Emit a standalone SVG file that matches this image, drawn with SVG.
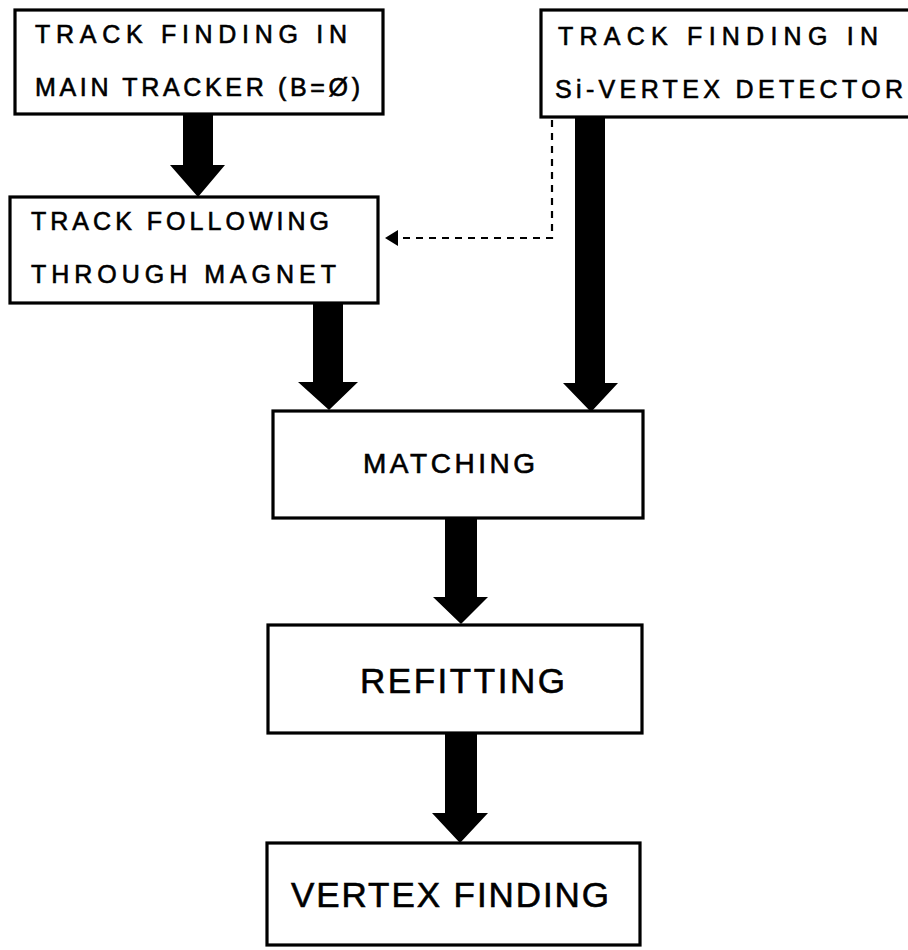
<svg xmlns="http://www.w3.org/2000/svg" width="908" height="950" viewBox="0 0 908 950">
  <style>
    .box { fill: #fff; stroke: #000; stroke-width: 3.2; }
    .lbl { font-family: "Liberation Sans", "DejaVu Sans", sans-serif; fill: #000; stroke: #000; stroke-width: 0.6; }
    .s { font-size: 25px; }
    .m { font-size: 28px; }
    .l { font-size: 35px; }
    .arrow { fill: #000; }
    .dash { fill: none; stroke: #000; stroke-width: 2.2; stroke-dasharray: 7 6; }
  </style>
  <defs>
    <marker id="tip" viewBox="0 0 10 10" refX="1" refY="5" markerWidth="14" markerHeight="14" markerUnits="userSpaceOnUse" orient="auto-start-reverse">
      <path d="M0,5 L10,0 L10,10 Z" fill="#000"/>
    </marker>
  </defs>
  <rect width="908" height="950" fill="#fff"/>

  <!-- block arrows and the dashed link -->
  <g id="connectors">
    <path class="arrow" d="M183,114 H213 V165 H225 L198,197 L170,165 H183 Z"/>
    <path class="arrow" d="M313,303 H343 V382 H358 L329,410 L298,382 H313 Z"/>
    <path class="arrow" d="M575,118 H605 V383 H618 L591,412 L563,383 H575 Z"/>
    <path class="arrow" d="M445,518 H477 V597 H488 L461,624 L433,597 H445 Z"/>
    <path class="arrow" d="M445,733 H477 V813 H488 L460,843 L432,813 H445 Z"/>
    <path class="dash" d="M552,120 V238 H398"/>
    <path d="M385,238 L398,230 L398,246 Z" fill="#000"/>
  </g>

  <g id="main-tracker">
    <rect class="box" x="15" y="10" width="368" height="104"/>
    <text class="lbl s" x="35" y="43" textLength="312" lengthAdjust="spacing">TRACK FINDING IN</text>
    <text class="lbl s" x="35" y="96" textLength="325" lengthAdjust="spacing">MAIN TRACKER (B=Ø)</text>
  </g>

  <g id="si-vertex">
    <rect class="box" x="541" y="10" width="375" height="107"/>
    <text class="lbl s" x="558" y="45" textLength="320" lengthAdjust="spacing">TRACK FINDING IN</text>
    <text class="lbl s" x="555" y="98" textLength="348" lengthAdjust="spacing">Si-VERTEX DETECTOR</text>
  </g>

  <g id="track-following">
    <rect class="box" x="10" y="197" width="368" height="106"/>
    <text class="lbl s" x="31" y="230" textLength="298" lengthAdjust="spacing">TRACK FOLLOWING</text>
    <text class="lbl s" x="31" y="283" textLength="305" lengthAdjust="spacing">THROUGH MAGNET</text>
  </g>

  <g id="matching">
    <rect class="box" x="273" y="411" width="370" height="107"/>
    <text class="lbl m" x="363" y="473" textLength="172" lengthAdjust="spacing">MATCHING</text>
  </g>

  <g id="refitting">
    <rect class="box" x="268" y="625" width="374" height="108"/>
    <text class="lbl l" x="360" y="693" textLength="205" lengthAdjust="spacing">REFITTING</text>
  </g>

  <g id="vertex-finding">
    <rect class="box" x="267" y="843" width="373" height="102"/>
    <text class="lbl l" x="291" y="907" textLength="318" lengthAdjust="spacing">VERTEX FINDING</text>
  </g>
</svg>
